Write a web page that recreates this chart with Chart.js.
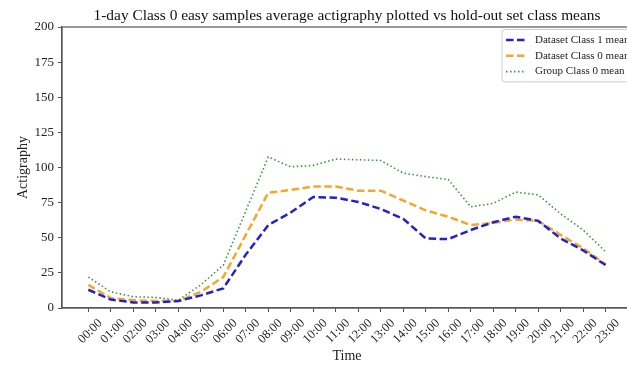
<!DOCTYPE html>
<html>
<head>
<meta charset="utf-8">
<script src="https://cdn.jsdelivr.net/npm/chart.js@4/dist/chart.umd.min.js"></script>
<style>
    html, body { margin: 0; padding: 0; background: #fff; overflow: hidden; }
    #wrap { width: 694px; height: 365px; }
</style>
</head>
<body>
<div id="wrap"><canvas id="actiChart" width="694" height="365"></canvas></div>
<script>
const times = ["00:00", "01:00", "02:00", "03:00", "04:00", "05:00", "06:00", "07:00",
    "08:00", "09:00", "10:00", "11:00", "12:00", "13:00", "14:00", "15:00",
    "16:00", "17:00", "18:00", "19:00", "20:00", "21:00", "22:00", "23:00"];

const class1Mean = [13, 6, 4, 4, 5, 9, 14, 38, 59, 68, 79, 78.5, 75.5, 70.5, 63.5, 49.5,
    49, 55.5, 61, 65, 62, 49.5, 41, 30.5];
const class0Mean = [16.5, 7, 5.5, 5, 5, 11.5, 22, 52, 82, 84, 86.5, 86.5, 83.5, 83.5, 76.5, 69.5,
    65, 59, 60.5, 63, 62, 52, 42.5, 31];
const groupClass0Mean = [22, 11.5, 8, 7.5, 5.5, 16.5, 30.5, 69, 107.5, 100.5, 101.5, 106, 105.5, 105, 96, 93.5,
    91.5, 72, 74.5, 82.5, 80.5, 67, 55.5, 40];

const yTicks = [0, 25, 50, 75, 100, 125, 150, 175, 200];

const chartTitle = "1-day Class 0 easy samples average actigraphy plotted vs hold-out set class means";

const FONT = "'Liberation Serif', 'DejaVu Serif', serif";
const SPINE = "#555";

const toPoints = (arr) => arr.map((v, i) => ({ x: i, y: v }));

/* box around the plot area + title centred over the axes (matplotlib style) */
const frameBox = {
    id: "frameBox",
    afterDraw(chart) {
        const { ctx, chartArea } = chart;
        ctx.save();
        ctx.strokeStyle = SPINE;
        ctx.lineWidth = 1.2;
        ctx.strokeRect(chartArea.left, chartArea.top,
            chartArea.right - chartArea.left, chartArea.bottom - chartArea.top);

        ctx.fillStyle = "#111";
        ctx.font = "15.4px " + FONT;
        ctx.textAlign = "center";
        ctx.textBaseline = "alphabetic";
        ctx.fillText(chartTitle, (chartArea.left + chartArea.right) / 2, chartArea.top - 7);
        ctx.restore();
    }
};

/* legend inside the axes, upper right */
const innerLegend = {
    id: "innerLegend",
    afterDraw(chart) {
        const { ctx, chartArea } = chart;
        const sets = chart.data.datasets;
        ctx.save();
        ctx.font = "11px " + FONT;
        const textW = Math.max(...sets.map(d => ctx.measureText(d.label).width));
        const rowH = 15.8;
        const w = 4 + 20 + 9 + textW + 5;
        const h = sets.length * rowH + 5;
        const x0 = chartArea.right - 130;
        const y0 = chartArea.top + 2.5;

        ctx.fillStyle = "rgba(255,255,255,0.85)";
        ctx.strokeStyle = "#ccc";
        ctx.lineWidth = 1;
        ctx.beginPath();
        ctx.roundRect(x0, y0, w, h, 3);
        ctx.fill();
        ctx.stroke();

        sets.forEach((d, i) => {
            const cy = y0 + 10.5 + i * rowH;
            ctx.strokeStyle = d.borderColor;
            ctx.lineWidth = d.borderWidth;
            ctx.setLineDash(d.borderDash || []);
            ctx.beginPath();
            ctx.moveTo(x0 + 4, cy);
            ctx.lineTo(x0 + 24, cy);
            ctx.stroke();
            ctx.setLineDash([]);
            ctx.fillStyle = "#222";
            ctx.textBaseline = "middle";
            ctx.textAlign = "left";
            ctx.fillText(d.label, x0 + 33, cy);
        });
        ctx.restore();
    }
};

new Chart(document.getElementById("actiChart"), {
    type: "line",
    data: {
        datasets: [
            {
                label: "Dataset Class 1 mean",
                data: toPoints(class1Mean),
                borderColor: "#2222cc",
                borderWidth: 2.5,
                borderDash: [7.5, 3.5]
            },
            {
                label: "Dataset Class 0 mean",
                data: toPoints(class0Mean),
                borderColor: "#f8a62a",
                borderWidth: 2.5,
                borderDash: [7.5, 3.5]
            },
            {
                label: "Group Class 0 mean",
                data: toPoints(groupClass0Mean),
                borderColor: "#3a983a",
                borderWidth: 1.6,
                borderDash: [1.5, 2.5]
            }
        ]
    },
    options: {
        responsive: false,
        animation: false,
        layout: { padding: { left: 0, right: 62, top: 27, bottom: 0 } },
        elements: {
            point: { radius: 0 },
            line: { tension: 0, fill: false }
        },
        plugins: {
            legend: { display: false },
            tooltip: { enabled: false },
            title: { display: false }
        },
        scales: {
            x: {
                type: "linear",
                min: -1.17,
                max: 24.17,
                afterBuildTicks: (axis) => {
                    axis.ticks = times.map((t, i) => ({ value: i }));
                },
                afterFit: (axis) => { axis.height = 57; },
                grid: {
                    drawOnChartArea: false,
                    drawTicks: true,
                    tickLength: 4,
                    color: SPINE
                },
                border: { display: true, color: SPINE, width: 1.2 },
                ticks: {
                    autoSkip: false,
                    maxRotation: 45,
                    minRotation: 45,
                    labelOffset: 12,
                    padding: 4,
                    color: "#222",
                    font: { family: FONT, size: 12.5 },
                    callback: (v) => times[v]
                },
                title: {
                    display: true,
                    text: "Time",
                    color: "#222",
                    font: { family: FONT, size: 14 },
                    padding: { top: 0, bottom: 0 }
                }
            },
            y: {
                min: 0,
                max: 200,
                afterBuildTicks: (axis) => {
                    axis.ticks = yTicks.map(v => ({ value: v }));
                },
                afterFit: (axis) => { axis.width = 62; },
                grid: {
                    drawOnChartArea: false,
                    drawTicks: true,
                    tickLength: 4,
                    color: SPINE
                },
                border: { display: true, color: SPINE, width: 1.2 },
                ticks: {
                    padding: 4,
                    color: "#222",
                    font: { family: FONT, size: 13 }
                },
                title: {
                    display: true,
                    text: "Actigraphy",
                    color: "#222",
                    font: { family: FONT, size: 14 },
                    padding: { top: 15, bottom: 0 }
                }
            }
        }
    },
    plugins: [frameBox, innerLegend]
});
</script>
</body>
</html>
